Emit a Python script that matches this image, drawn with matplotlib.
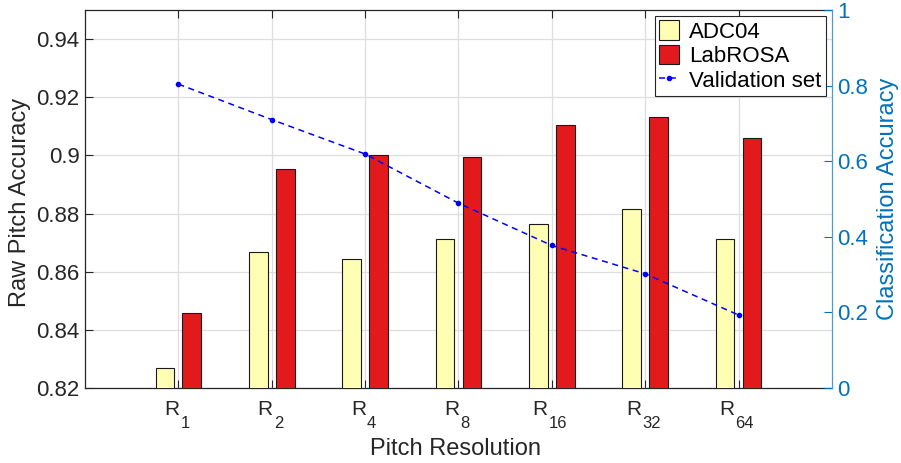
import matplotlib
matplotlib.use("Agg")
import matplotlib.pyplot as plt
import matplotlib.transforms as mtransforms
import numpy as np

plt.rcParams['font.family'] = ['Liberation Sans', 'DejaVu Sans']

categories = ["1", "2", "4", "8", "16", "32", "64"]   # resolution subscripts of R
adc04 = [0.8268, 0.8668, 0.8645, 0.8714, 0.8764, 0.8815, 0.8711]
labrosa = [0.8458, 0.8952, 0.9000, 0.8993, 0.9103, 0.9133, 0.9059]
validation = [0.804, 0.710, 0.619, 0.489, 0.377, 0.302, 0.193]

text_col = '#262626'
right_col = '#0072BD'

fig = plt.figure(figsize=(9.01, 4.63), dpi=100)
ax = fig.add_axes([0.0943, 0.162, 0.8291, 0.8164])
x = np.arange(1, len(categories) + 1)
w = 0.2

b1 = ax.bar(x - 0.144, adc04, w, color='#FFFFB3', edgecolor='#1a1a1a',
            linewidth=0.8, label='ADC04', zorder=3)
b2 = ax.bar(x + 0.144, labrosa, w, color='#E31A1C', edgecolor='#1a1a1a',
            linewidth=0.8, label='LabROSA', zorder=3)

ax.set_xlim(0, 8)
ax.set_ylim(0.82, 0.95)
ax.set_yticks([0.82, 0.84, 0.86, 0.88, 0.90, 0.92, 0.94])
ax.set_yticklabels(['0.82', '0.84', '0.86', '0.88', '0.9', '0.92', '0.94'])
ax.set_xticks(x)
ax.set_xticklabels([''] * len(x))
ax.grid(True, color='#dedede', linewidth=0.9, zorder=0)
ax.set_axisbelow(True)
ax.tick_params(axis='both', direction='in', labelsize=16, colors=text_col,
               top=True, length=5.5, width=0.8)
ax.tick_params(axis='y', pad=4)
for s in ['left', 'bottom', 'top']:
    ax.spines[s].set_color(text_col)
    ax.spines[s].set_linewidth(0.9)
ax.spines['right'].set_visible(False)

# "R" tick labels with a dropped subscript, in the style of TeX-interpreted labels
base = mtransforms.blended_transform_factory(ax.transData, ax.transAxes)
for xi, sub in zip(x, categories):
    n = len(sub)
    dx = 6.0 - 5.0 * n
    t_r = base + mtransforms.ScaledTranslation(dx / 100, -27.5 / 100, fig.dpi_scale_trans)
    ax.text(xi, 0, 'R', transform=t_r, ha='right', va='baseline',
            fontsize=15, color=text_col, clip_on=False)
    t_s = base + mtransforms.ScaledTranslation((dx + 1.0) / 100, -40.0 / 100, fig.dpi_scale_trans)
    ax.text(xi, 0, sub, transform=t_s, ha='left', va='baseline',
            fontsize=12, color=text_col, clip_on=False)

ax.set_ylabel('Raw Pitch Accuracy', fontsize=17, color=text_col)
ax.yaxis.label.set_va('center')
ax.yaxis.set_label_coords((20 - 85) / 747, 0.492)
ax.set_xlabel('Pitch Resolution', fontsize=17, color=text_col)
ax.xaxis.set_label_coords(0.496, -0.132)

ax2 = ax.twinx()
ln, = ax2.plot(x, validation, linestyle='--', color='#0000FF', linewidth=1.1,
               marker='o', markersize=3, markerfacecolor='#0000FF',
               label='Validation set', dashes=(4, 3), zorder=4)
ax2.set_ylim(0, 1)
ax2.set_yticks([0, 0.2, 0.4, 0.6, 0.8, 1])
ax2.set_yticklabels(['0', '0.2', '0.4', '0.6', '0.8', '1'])
ax2.tick_params(axis='y', direction='in', labelsize=16, colors=right_col,
                length=5.5, width=0.8, pad=4)
ax2.spines['right'].set_color('#4a9bd0')
ax2.spines['right'].set_linewidth(0.9)
for s in ['left', 'bottom', 'top']:
    ax2.spines[s].set_visible(False)
ax2.set_ylabel('Classification Accuracy', fontsize=17, color=right_col)
ax2.yaxis.label.set_va('center')
ax2.yaxis.set_label_coords((888 - 85) / 747, 0.5)

leg = ax2.legend([b1, b2, ln], ['ADC04', 'LabROSA', 'Validation set'],
                 loc='upper right', fontsize=16,
                 frameon=True, fancybox=False, edgecolor='#262626', framealpha=1,
                 handlelength=0.9, handleheight=0.95, handletextpad=0.45,
                 borderpad=0.2, labelspacing=0.1, borderaxespad=0.27)
leg.get_frame().set_linewidth(0.8)
for t in leg.get_texts():
    t.set_color('#000000')

fig.savefig('out.png', dpi=100)
